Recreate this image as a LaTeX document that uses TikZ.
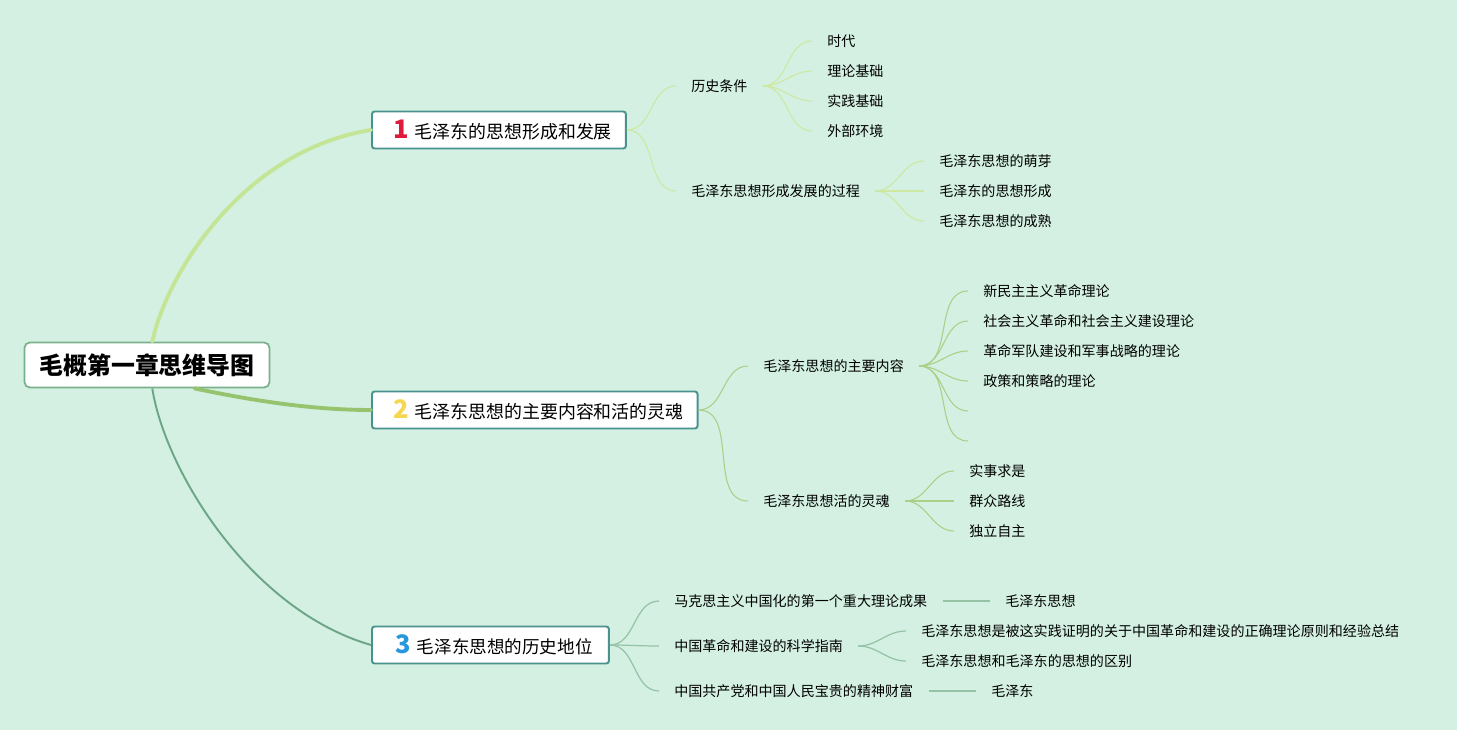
\documentclass[tikz,border=0pt]{standalone}
\usepackage{fontspec}
\setmainfont{Noto Sans CJK SC}
\usetikzlibrary{positioning}
\definecolor{bgc}{RGB}{211,240,226}
\definecolor{boxc}{RGB}{74,146,142}
\definecolor{rootc}{RGB}{122,176,140}
\definecolor{lnAc}{RGB}{205,232,160}
\definecolor{lnBc}{RGB}{170,208,135}
\definecolor{lnCc}{RGB}{150,195,165}
\definecolor{mainAc}{RGB}{196,228,150}
\definecolor{mainBc}{RGB}{150,196,110}
\definecolor{mainCc}{RGB}{108,166,134}
\definecolor{numAc}{RGB}{222,27,58}
\definecolor{numBc}{RGB}{245,215,80}
\definecolor{numCc}{RGB}{40,150,220}
\newcommand{\topicnum}[2]{\hspace{4pt}{\color{#1}\fontsize{14.5}{15}\selectfont\bfseries #2}\hspace{3.5pt}}

\begin{document}
\begin{tikzpicture}[x=0.02cm,y=-0.02cm,
  leaf/.style={anchor=west,inner xsep=8.5pt,inner ysep=1pt,font=\fontsize{8}{10}\selectfont},
  topic/.style={anchor=west,draw=boxc,line width=1.1pt,fill=white,rounded corners=1.5pt,
    minimum height=0.74cm,inner xsep=8pt,inner ysep=0pt,font=\fontsize{10.2}{13}\selectfont},
  lnA/.style={draw=lnAc,line width=0.6pt},
  lnB/.style={draw=lnBc,line width=0.6pt},
  lnC/.style={draw=lnCc,line width=0.7pt}]
\useasboundingbox (0,0) rectangle (1457,730);
\fill[bgc] (0,0) rectangle (1457,730);

\node[draw=rootc,line width=1pt,fill=white,rounded corners=3pt,minimum width=4.9cm,
  minimum height=0.9cm,font=\fontsize{13.6}{16}\selectfont\bfseries] (root) at (147,365) {毛概第一章思维导图};

\node[topic] (b1) at (371,130) {\topicnum{numAc}{1}毛泽东的思想形成和发展};
\node[topic] (b2) at (371,410) {\topicnum{numBc}{2}毛泽东思想的主要内容和活的灵魂};
\node[topic,font=\fontsize{10}{13}\selectfont,minimum width=4.74cm] (b3) at (371,645) {\topicnum{numCc}{3}毛泽东思想的历史地位};

% main branches
\draw[mainAc,line width=2.2pt,line cap=round] ([xshift=3pt]root.north) .. controls (168,270) and (245,150) .. (b1.west);
\draw[mainBc,line width=2.2pt,line cap=round] ([xshift=27pt]root.south) .. controls (250,400) and (310,410) .. (b2.west);
\draw[mainCc,line width=1.1pt] ([xshift=3pt]root.south) .. controls (165,470) and (250,610) .. (b3.west);

% branch 1
\node[leaf] (h1) at (676,86) {历史条件};
\node[leaf] (h2) at (676,191) {毛泽东思想形成发展的过程};
\node[leaf] (t1) at (812,41) {时代};
\node[leaf] (t2) at (812,71) {理论基础};
\node[leaf] (t3) at (812,101) {实践基础};
\node[leaf] (t4) at (812,131) {外部环境};
\node[leaf] (p1) at (924,161) {毛泽东思想的萌芽};
\node[leaf] (p2) at (924,191) {毛泽东的思想形成};
\node[leaf] (p3) at (924,221) {毛泽东思想的成熟};
\foreach \c in {h1,h2} \draw[lnA] (b1.east) to[out=0,in=180] (\c.west);
\foreach \c in {t1,t2,t3,t4} \draw[lnA] (h1.east) to[out=0,in=180] (\c.west);
\foreach \c in {p1,p2,p3} \draw[lnA] (h2.east) to[out=0,in=180] (\c.west);

% branch 2
\node[leaf] (c1) at (748,366) {毛泽东思想的主要内容};
\node[leaf] (c2) at (748,501) {毛泽东思想活的灵魂};
\node[leaf] (m1) at (968,291) {新民主主义革命理论};
\node[leaf] (m2) at (968,321) {社会主义革命和社会主义建设理论};
\node[leaf] (m3) at (968,351) {革命军队建设和军事战略的理论};
\node[leaf] (m4) at (968,381) {政策和策略的理论};
\node[leaf] (m5) at (968,411) {};
\node[leaf] (m6) at (968,441) {};
\node[leaf] (s1) at (954,471) {实事求是};
\node[leaf] (s2) at (954,501) {群众路线};
\node[leaf] (s3) at (954,531) {独立自主};
\foreach \c in {c1,c2} \draw[lnB] (b2.east) to[out=0,in=180] (\c.west);
\foreach \c in {m1,m2,m3,m4,m5,m6} \draw[lnB] (c1.east) to[out=0,in=180] (\c.west);
\foreach \c in {s1,s2,s3} \draw[lnB] (c2.east) to[out=0,in=180] (\c.west);

% branch 3
\node[leaf] (d1) at (659,601) {马克思主义中国化的第一个重大理论成果};
\node[leaf] (d2) at (659,646) {中国革命和建设的科学指南};
\node[leaf] (d3) at (659,691) {中国共产党和中国人民宝贵的精神财富};
\node[leaf] (e1) at (990,601) {毛泽东思想};
\node[leaf] (g1) at (906,631) {毛泽东思想是被这实践证明的关于中国革命和建设的正确理论原则和经验总结};
\node[leaf] (g2) at (906,661) {毛泽东思想和毛泽东的思想的区别};
\node[leaf] (f1) at (976,691) {毛泽东};
\foreach \c in {d1,d2,d3} \draw[lnC] (b3.east) to[out=0,in=180] (\c.west);
\draw[lnC,line width=1.2pt] (d1.east) -- (e1.west);
\foreach \c in {g1,g2} \draw[lnC] (d2.east) to[out=0,in=180] (\c.west);
\draw[lnC,line width=1.2pt] (d3.east) -- (f1.west);
\end{tikzpicture}
\end{document}
